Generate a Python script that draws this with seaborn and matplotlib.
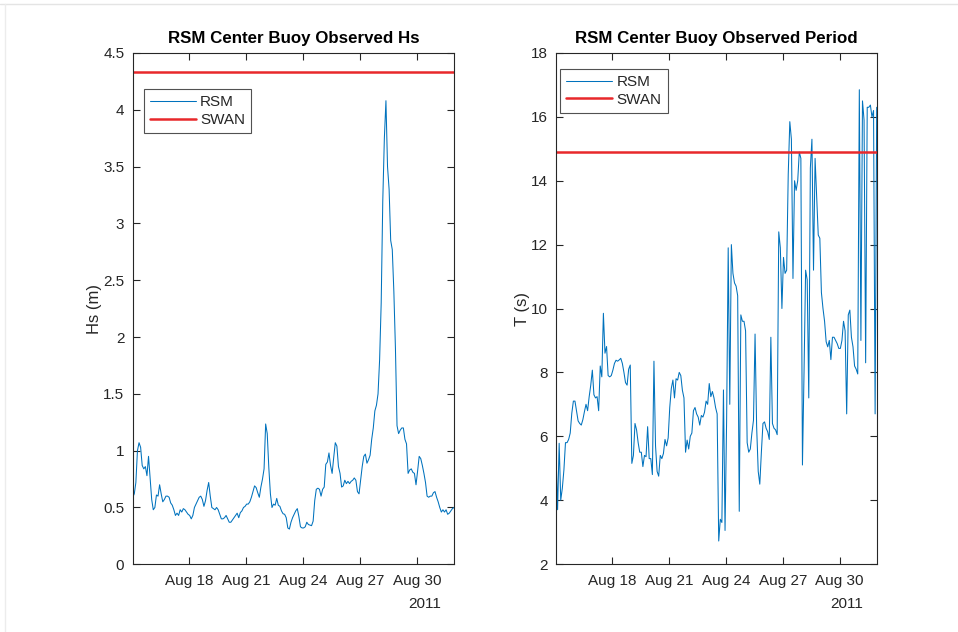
import matplotlib
matplotlib.use("Agg")
import matplotlib.pyplot as plt
import matplotlib.dates as mdates
from matplotlib.lines import Line2D
from matplotlib.ticker import FixedLocator, FuncFormatter
import numpy as np
import pandas as pd
import seaborn as sns

# ---- data: buoy observations every 2 hours, 15 Aug 2011 01:00 onward ----
start_time = "2011-08-15 01:00"
step = "2h"

hs_rsm = [
    0.59, 0.62, 0.72, 1.00, 1.07, 1.03, 0.87, 0.84, 0.86, 0.78,
    0.95, 0.76, 0.57, 0.48, 0.50, 0.61, 0.60, 0.70, 0.62, 0.55,
    0.57, 0.60, 0.60, 0.59, 0.54, 0.52, 0.48, 0.43, 0.45, 0.43,
    0.48, 0.46, 0.49, 0.48, 0.46, 0.44, 0.43, 0.40, 0.43, 0.50,
    0.53, 0.56, 0.59, 0.60, 0.57, 0.51, 0.56, 0.65, 0.72, 0.60,
    0.50, 0.49, 0.48, 0.50, 0.48, 0.44, 0.40, 0.40, 0.41, 0.43,
    0.40, 0.37, 0.37, 0.39, 0.41, 0.43, 0.45, 0.41, 0.455, 0.47,
    0.50, 0.51, 0.53, 0.53, 0.55, 0.59, 0.64, 0.69, 0.675, 0.63,
    0.59, 0.68, 0.75, 0.84, 1.235, 1.15, 0.85, 0.62, 0.50, 0.53,
    0.52, 0.58, 0.52, 0.51, 0.47, 0.445, 0.44, 0.41, 0.32, 0.31,
    0.37, 0.41, 0.44, 0.47, 0.49, 0.42, 0.33, 0.32, 0.32, 0.33,
    0.37, 0.35, 0.345, 0.34, 0.38, 0.56, 0.66, 0.67, 0.66, 0.60,
    0.66, 0.68, 0.88, 0.90, 0.98, 0.87, 0.80, 0.94, 1.07, 1.04,
    0.86, 0.80, 0.68, 0.69, 0.74, 0.71, 0.73, 0.71, 0.73, 0.74,
    0.76, 0.74, 0.64, 0.62, 0.74, 0.86, 0.95, 0.97, 0.89, 0.92,
    0.96, 1.10, 1.20, 1.35, 1.40, 1.50, 1.80, 2.30, 3.20, 3.75,
    4.08, 3.50, 3.30, 2.85, 2.77, 2.40, 1.90, 1.22, 1.15, 1.18,
    1.20, 1.20, 1.10, 1.06, 0.80, 0.83, 0.84, 0.81, 0.80, 0.70,
    0.82, 0.95, 0.93, 0.87, 0.80, 0.72, 0.60, 0.59, 0.60, 0.60,
    0.63, 0.64, 0.59, 0.55, 0.50, 0.46, 0.48, 0.46, 0.48, 0.44,
    0.45, 0.47, 0.49, 0.50,
]

t_rsm = [
    5.47, 3.70, 5.78, 4.00, 4.37, 4.94, 5.80, 5.80, 5.90, 6.10,
    6.72, 7.10, 7.10, 6.80, 6.48, 6.40, 6.35, 6.52, 6.77, 7.00,
    6.80, 7.24, 7.60, 8.07, 7.30, 7.20, 7.24, 6.80, 8.20, 7.86,
    9.85, 8.60, 8.81, 7.90, 7.86, 7.90, 8.07, 8.28, 8.38, 8.35,
    8.39, 8.44, 8.28, 8.00, 7.68, 7.60, 8.10, 8.23, 5.15, 5.40,
    6.40, 6.20, 5.80, 5.50, 5.50, 5.05, 5.40, 5.36, 6.30, 5.30,
    5.30, 4.80, 8.35, 5.70, 4.90, 4.75, 5.40, 5.30, 5.46, 5.90,
    5.70, 5.95, 6.90, 7.50, 7.76, 7.20, 7.80, 7.76, 8.00, 7.90,
    7.44, 7.20, 5.50, 5.88, 5.60, 6.00, 6.10, 6.80, 6.90, 6.70,
    6.60, 6.35, 6.65, 6.60, 6.75, 7.10, 7.00, 7.65, 7.24, 7.40,
    7.20, 6.90, 6.70, 2.72, 3.40, 3.30, 7.45, 3.05, 6.50, 11.90,
    7.00, 12.00, 11.10, 10.80, 10.70, 10.40, 3.65, 9.80, 9.60, 9.60,
    9.30, 5.80, 5.50, 5.60, 6.10, 6.50, 9.20, 6.30, 4.90, 4.50,
    5.50, 6.40, 6.45, 6.25, 6.14, 5.90, 9.10, 6.40, 6.25, 6.20,
    6.05, 12.40, 11.90, 10.00, 11.60, 11.10, 11.20, 14.20, 15.85, 15.30,
    10.94, 14.00, 13.70, 14.00, 14.90, 14.70, 5.10, 8.00, 11.20, 10.90,
    7.20, 14.40, 15.30, 11.20, 14.70, 13.50, 12.30, 12.20, 10.50, 10.00,
    9.60, 8.96, 8.80, 9.00, 8.40, 9.10, 9.10, 9.00, 8.90, 8.75,
    8.75, 9.00, 9.60, 9.30, 6.70, 9.80, 9.95, 9.10, 8.80, 8.20,
    8.10, 7.95, 16.85, 9.00, 16.50, 15.90, 8.30, 16.30, 16.30, 16.37,
    16.00, 16.20, 6.70, 16.30,
]

# SWAN model reference levels
hs_swan = 4.33
t_swan = 14.9

tick_days = ["2011-08-18", "2011-08-21", "2011-08-24", "2011-08-27", "2011-08-30"]
tick_labels = ["Aug 18", "Aug 21", "Aug 24", "Aug 27", "Aug 30"]
year_label = "2011"

hs_ticks = [0, 0.5, 1, 1.5, 2, 2.5, 3, 3.5, 4, 4.5]
t_ticks = [2, 4, 6, 8, 10, 12, 14, 16, 18]

times = pd.date_range(start=start_time, periods=len(hs_rsm), freq=step)
df = pd.DataFrame({"time": times, "Hs": hs_rsm, "T": t_rsm})

# ---- styling ----
sns.set_theme(style="white")
plt.rcParams["font.family"] = ["Liberation Sans", "DejaVu Sans"]
plt.rcParams["axes.linewidth"] = 0.8

blue = "#0072BD"
red = "#E8282B"
axis_grey = "#262626"
text_grey = "#262626"

W, H = 958, 632
fig = plt.figure(figsize=(W / 100, H / 100), dpi=100)
fig.patch.set_facecolor("white")

# faint window frame along the top and left edges
fig.add_artist(Line2D([0, 1], [1 - 4 / H, 1 - 4 / H], color="#e4e4e4",
                      linewidth=1.0, transform=fig.transFigure))
fig.add_artist(Line2D([5 / W, 5 / W], [0, 1 - 4 / H], color="#ececec",
                      linewidth=1.0, transform=fig.transFigure))


def px_axes(x0, x1, y0, y1):
    return fig.add_axes([x0 / W, 1 - y1 / H, (x1 - x0) / W, (y1 - y0) / H])


ax1 = px_axes(132.7, 454.0, 53.0, 564.3)
ax2 = px_axes(556.0, 876.7, 53.0, 564.0)

tick_nums = [mdates.date2num(pd.Timestamp(d)) for d in tick_days]


def style_axes(ax, yticks, ylim, ylabel, title):
    ax.set_facecolor("white")
    ax.set_xlim(times[0], times[-1])
    ax.set_ylim(*ylim)
    ax.xaxis.set_major_locator(FixedLocator(tick_nums))
    ax.set_xticklabels(tick_labels)
    ax.yaxis.set_major_locator(FixedLocator(yticks))
    ax.yaxis.set_major_formatter(FuncFormatter(lambda v, p: f"{v:g}"))
    ax.tick_params(axis="both", which="major", direction="in", length=5,
                   width=0.8, color=axis_grey, labelcolor=text_grey,
                   labelsize=11, top=True, right=True, pad=6,
                   bottom=True, left=True)
    ax.tick_params(axis="x", pad=7)
    for s in ax.spines.values():
        s.set_visible(True)
        s.set_color(axis_grey)
        s.set_linewidth(0.8)
    ax.set_xlabel("")
    ax.set_ylabel(ylabel, fontsize=12, color=text_grey, labelpad=0.6)
    ax.set_title(title, fontsize=12.2, fontweight="bold", color="black", pad=7)
    ax.annotate(year_label, xy=(tick_nums[-1], 0),
                xycoords=ax.get_xaxis_transform(),
                xytext=(24, -33), textcoords="offset pixels",
                ha="right", va="top", fontsize=11, color=text_grey)


def add_legend(ax, anchor):
    leg = ax.legend(loc="upper left", bbox_to_anchor=anchor,
                    frameon=True, fancybox=False, fontsize=11,
                    handlelength=3.0, borderpad=0.4, labelspacing=0.25,
                    handletextpad=0.3, borderaxespad=0)
    leg.get_frame().set_edgecolor(axis_grey)
    leg.get_frame().set_linewidth(0.8)
    return leg


# ---- Hs panel ----
sns.lineplot(data=df, x="time", y="Hs", ax=ax1, color=blue, linewidth=0.75,
             label="RSM")
ax1.axhline(hs_swan, color=red, linewidth=1.8, label="SWAN")
style_axes(ax1, hs_ticks, (0, 4.5), "Hs (m)", "RSM Center Buoy Observed Hs")
add_legend(ax1, (0.034, 0.9295))

# ---- Period panel ----
sns.lineplot(data=df, x="time", y="T", ax=ax2, color=blue, linewidth=0.75,
             label="RSM")
ax2.axhline(t_swan, color=red, linewidth=1.8, label="SWAN")
style_axes(ax2, t_ticks, (2, 18), "T (s)", "RSM Center Buoy Observed Period")
add_legend(ax2, (0.0125, 0.969))

fig.savefig("out.png", dpi=100, facecolor="white")
